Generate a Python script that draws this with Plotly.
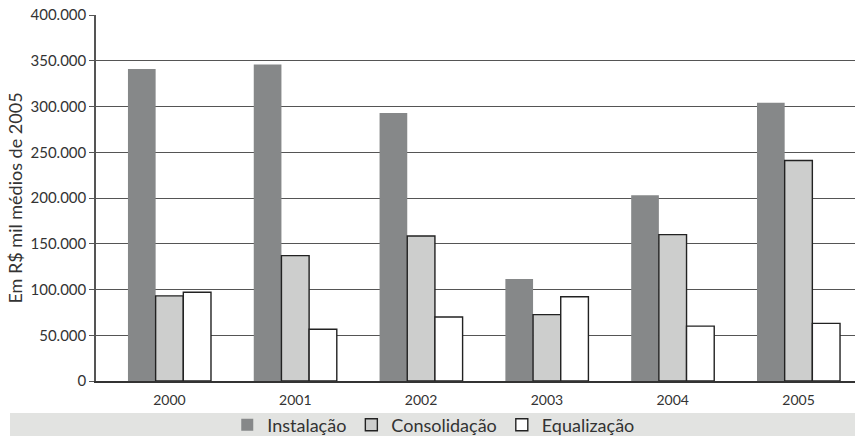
import plotly.graph_objects as go

# Dados (em R$ mil médios de 2005)
anos = ["2000", "2001", "2002", "2003", "2004", "2005"]
instalacao = [341000, 346000, 293000, 111500, 203000, 304000]
consolidacao = [93000, 137000, 158500, 72500, 160000, 241000]
equalizacao = [97000, 56500, 70000, 92000, 60000, 63000]
y_ticks = [0, 50000, 100000, 150000, 200000, 250000, 300000, 350000, 400000]

FONT = "Lato"
TXT = "#333333"

fig = go.Figure()
fig.add_trace(go.Bar(
    name="Instalação", x=anos, y=instalacao,
    marker=dict(color="#868889", line=dict(width=0)),
))
fig.add_trace(go.Bar(
    name="Consolidação", x=anos, y=consolidacao,
    marker=dict(color="#cdcecd", line=dict(color="#222222", width=1.4)),
))
fig.add_trace(go.Bar(
    name="Equalização", x=anos, y=equalizacao,
    marker=dict(color="#ffffff", line=dict(color="#222222", width=1.4)),
))

# faixa cinza atrás da legenda
fig.add_shape(
    type="rect", xref="paper", yref="paper",
    x0=-0.1133, x1=1.01, y0=-0.16, y1=-0.0874,
    fillcolor="#e2e3e1", line=dict(width=0), layer="below",
)

fig.update_layout(
    template="none",
    width=855, height=436,
    margin=dict(l=96, r=0, t=15, b=55, pad=0),
    paper_bgcolor="white", plot_bgcolor="white",
    separators=",.",
    barmode="group", bargap=0.34, bargroupgap=0,
    font=dict(family=FONT, color=TXT),
    showlegend=True,
    legend=dict(
        orientation="h", x=0.445, xanchor="center",
        yref="container", y=0.025, yanchor="middle",
        font=dict(size=18, family=FONT, color=TXT),
        bgcolor="rgba(0,0,0,0)",
        itemwidth=30, tracegroupgap=0,
    ),
    xaxis=dict(
        type="category", range=[-0.584, 5.449], automargin=False,
        showgrid=False, showline=True, linecolor="#333333", linewidth=1.5,
        ticks="", tickfont=dict(size=14, color=TXT),
        ticklabelstandoff=5,
    ),
    yaxis=dict(
        range=[0, 400000], tickvals=y_ticks, tickformat=",d", automargin=False,
        showgrid=True, gridcolor="#555555", gridwidth=1.2,
        showline=True, linecolor="#555555", linewidth=1.5,
        ticks="outside", ticklen=5, tickcolor="#555555", tickwidth=1.2,
        tickfont=dict(size=15, color=TXT),
        zeroline=False,
        title=dict(text="Em R$ mil médios de 2005",
                   font=dict(size=18, color=TXT), standoff=3),
    ),
)

fig.write_html("out.html")
